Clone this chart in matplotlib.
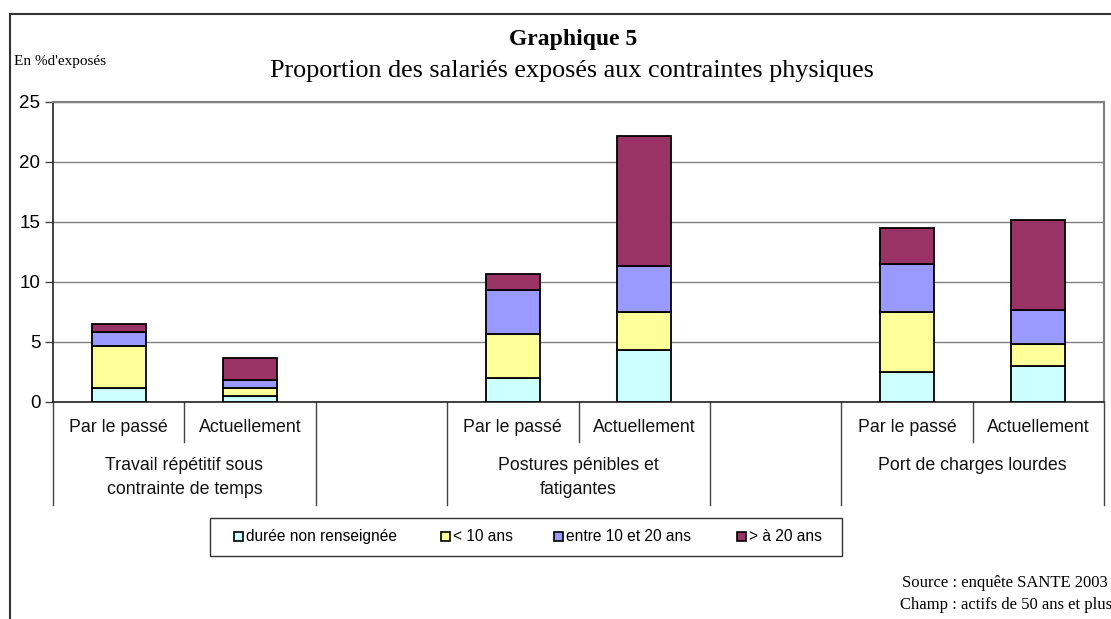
import matplotlib
matplotlib.use("Agg")
import matplotlib.pyplot as plt
from matplotlib.patches import Rectangle
from matplotlib.lines import Line2D
from matplotlib.transforms import blended_transform_factory
import numpy as np

# ---- data ----
groups = ["Travail répétitif sous\ncontrainte de temps",
          "Postures pénibles et\nfatigantes",
          "Port de charges lourdes"]
periods = ["Par le passé", "Actuellement"]
series_names = ["durée non renseignée", "< 10 ans", "entre 10 et 20 ans", "> à 20 ans"]
duree_nr = [1.17, 0.50, 2.00, 4.36, 2.50, 3.00]
moins_10 = [3.50, 0.69, 3.69, 3.11, 5.00, 1.83]
entre_10_20 = [1.17, 0.64, 3.64, 3.86, 4.00, 2.83]
plus_20 = [0.67, 1.86, 1.33, 10.86, 3.00, 7.50]
yticks = [0, 5, 10, 15, 20, 25]

colors = ["#CCFFFF", "#FFFF99", "#9999FF", "#993366"]
series = [duree_nr, moins_10, entre_10_20, plus_20]

W, H = 1111, 619
fig = plt.figure(figsize=(W / 100, H / 100), dpi=100)
fig.patch.set_facecolor("white")

def fx(px):
    return px / W

def fy(py):
    return 1 - py / H

# outer chart border
fig.add_artist(Rectangle((fx(10), fy(700)), fx(1200), fy(14) - fy(700),
                         transform=fig.transFigure, fill=False,
                         edgecolor="#333333", linewidth=1.5))

ax = fig.add_axes([fx(53), fy(402), fx(1104) - fx(53), fy(102) - fy(402)])
n_slots = 3 * len(groups) - 1
ax.set_xlim(0, n_slots)
ax.set_ylim(0, 25)

# bar positions: two per group, a blank slot between groups
pos = []
for g in range(len(groups)):
    for p in range(len(periods)):
        pos.append(g * 3 + p + 0.5)
pos = np.array(pos)

bottom = np.zeros(len(pos))
for vals, col, name in zip(series, colors, series_names):
    ax.bar(pos, vals, width=0.41, bottom=bottom, color=col,
           edgecolor="black", linewidth=1.3, label=name, zorder=3)
    bottom += np.array(vals)

# grid and spines
ax.set_yticks(yticks)
ax.yaxis.grid(True, color="#808080", linewidth=1.0, zorder=0)
ax.set_axisbelow(True)
ax.spines["top"].set_color("#808080")
ax.spines["top"].set_linewidth(1.5)
ax.spines["right"].set_color("#808080")
ax.spines["right"].set_linewidth(1.5)
ax.spines["left"].set_color("#222222")
ax.spines["left"].set_linewidth(1.2)
ax.spines["bottom"].set_color("#222222")
ax.spines["bottom"].set_linewidth(1.2)
ax.tick_params(axis="y", direction="out", length=6, width=1, color="#444444",
               labelsize=13.5, pad=3)
for lab in ax.get_yticklabels():
    lab.set_fontfamily("Liberation Sans")
ax.set_xticks([])

# category axis (multi-level) drawn manually
tr = blended_transform_factory(ax.transData, ax.transAxes)

def afrac(py):
    return (402 - py) / 300.0

for g in range(len(groups)):
    for p, lab in enumerate(periods):
        ax.text(g * 3 + p + 0.5, afrac(428), lab, transform=tr, ha="center",
                va="center", fontsize=12.8, family="Liberation Sans",
                color="#111111")
    # inner separator
    ax.add_line(Line2D([g * 3 + 1, g * 3 + 1], [0, afrac(442)], transform=tr,
                       color="#444444", linewidth=1, clip_on=False))
    # group labels
    for k, line in enumerate(groups[g].split("\n")):
        ax.text(g * 3 + 1, afrac(466 + 24 * k), line, transform=tr,
                ha="center", va="center", fontsize=12.8,
                family="Liberation Sans", color="#111111")
# outer separators
for xs in [0] + [g * 3 + 2 for g in range(len(groups) - 1)] + \
          [g * 3 + 3 for g in range(len(groups) - 1)] + [n_slots]:
    ax.add_line(Line2D([xs, xs], [0, afrac(505)], transform=tr,
                       color="#444444", linewidth=1, clip_on=False))

# titles
fig.text(fx(573), fy(40), "Graphique 5", ha="center", va="center",
         fontsize=17, fontweight="bold", family="Liberation Serif")
fig.text(fx(572), fy(71), "Proportion des salariés exposés aux contraintes physiques",
         ha="center", va="center", fontsize=18.8, family="Liberation Serif")
fig.text(fx(14), fy(61), "En %d'exposés", ha="left", va="center",
         fontsize=11, family="Liberation Serif")

# legend (manual)
fig.add_artist(Rectangle((fx(210), fy(556)), fx(842) - fx(210), fy(518) - fy(556),
                         transform=fig.transFigure, fill=False,
                         edgecolor="#333333", linewidth=1))
sq_x = [234, 441, 554, 737]
for x0, col, name in zip(sq_x, colors, series_names):
    fig.add_artist(Rectangle((fx(x0), fy(541)), fx(9), fy(532) - fy(541),
                             transform=fig.transFigure, facecolor=col,
                             edgecolor="black", linewidth=1.2))
    fig.text(fx(x0 + 12), fy(536.5), name, ha="left", va="center",
             fontsize=11.2, family="Liberation Sans")

# source
fig.text(fx(1108), fy(583), "Source : enquête SANTE 2003", ha="right",
         va="center", fontsize=12, family="Liberation Serif")
fig.text(fx(1112), fy(605), "Champ : actifs de 50 ans et plus", ha="right",
         va="center", fontsize=12, family="Liberation Serif")

fig.savefig("out.png", dpi=100)
